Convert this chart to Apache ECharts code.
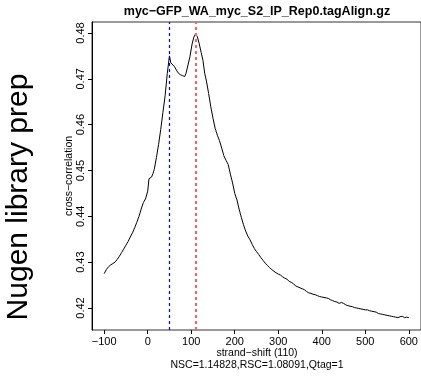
<!DOCTYPE html>
<html><head><meta charset="utf-8">
<script src="https://cdn.jsdelivr.net/npm/echarts@6/dist/echarts.min.js"></script>
<style>html,body{margin:0;padding:0;background:#fff}#c{width:421px;height:378px}</style>
</head><body><div id="c"></div>
<script>
var chartTitle = "myc\u2212GFP_WA_myc_S2_IP_Rep0.tagAlign.gz";
var sideLabel = "Nugen library prep";
var xName = "strand\u2212shift (110)";
var statsLine = "NSC=1.14828,RSC=1.08091,Qtag=1";
var yName = "cross\u2212correlation";
var xTicks = [-100, 0, 100, 200, 300, 400, 500, 600];
var yTicks = [0.42, 0.43, 0.44, 0.45, 0.46, 0.47, 0.48];
var phantomPeak = 50;
var fragmentPeak = 110;
var shifts = [-100,-95,-90,-85,-80,-75,-70,-65,-60,-55,-50,-45,-40,-35,-30,-25,-20,-15,-10,-5,0,3,5,9,12,15,20,25,30,35,40,45,50,53,57,62,66,70,75,80,85,88,92,97,102,106,110,114,118,123,127,131,135,140,145,150,155,160,165,170,175,180,185,190,195,200,205,210,215,220,225,230,235,240,245,250,255,260,265,270,275,280,285,290,295,300,305,310,315,320,325,330,335,340,345,350,355,360,365,370,375,380,385,390,395,400,405,410,415,420,425,430,435,440,445,450,455,460,465,470,475,480,485,490,495,500,505,510,515,520,525,530,535,540,545,550,555,560,565,570,575,580,585,590,595,600];
var corr = [0.4275,0.4284,0.4290,0.4294,0.4297,0.4300,0.4306,0.4313,0.4321,0.4329,0.4337,0.4345,0.4355,0.4364,0.4375,0.4387,0.4400,0.4416,0.4430,0.4438,0.4455,0.4482,0.4484,0.4486,0.4493,0.4502,0.4528,0.4557,0.4590,0.4627,0.4663,0.4712,0.4750,0.4735,0.4731,0.4726,0.4719,0.4713,0.4709,0.4707,0.4705,0.4712,0.4728,0.4748,0.4776,0.4791,0.4798,0.4792,0.4778,0.4757,0.4740,0.4712,0.4695,0.4668,0.4639,0.4614,0.4592,0.4577,0.4565,0.4549,0.4532,0.4522,0.4513,0.4492,0.4473,0.4450,0.4436,0.4416,0.4398,0.4382,0.4368,0.4357,0.4349,0.4339,0.4330,0.4323,0.4317,0.4310,0.4304,0.4298,0.4293,0.4288,0.4284,0.4280,0.4277,0.4274,0.4272,0.4268,0.4265,0.4263,0.4258,0.4256,0.4253,0.4248,0.4246,0.4244,0.4242,0.4240,0.4236,0.4233,0.4232,0.4230,0.4229,0.4227,0.4225,0.4224,0.4223,0.4222,0.4221,0.4218,0.4216,0.4214,0.4213,0.4210,0.4212,0.4210,0.4207,0.4205,0.4204,0.4203,0.4201,0.4200,0.4199,0.4198,0.4197,0.4196,0.4196,0.4194,0.4193,0.4192,0.4191,0.4188,0.4187,0.4186,0.4185,0.4184,0.4183,0.4182,0.4181,0.4180,0.4179,0.4181,0.4182,0.4179,0.4180,0.4179];

var FONT = "'Liberation Sans', Arial, Helvetica, sans-serif";
var data = shifts.map(function(s, i){ return [s, corr[i]]; });
var chart = echarts.init(document.getElementById('c'), null, {renderer: 'canvas'});
var gridL = 92, gridT = 22, gridW = 332, gridH = 308;
chart.setOption({
  animation: false,
  backgroundColor: '#fff',
  grid: {left: gridL, top: gridT, width: gridW, height: gridH, show: true, borderColor: '#333', borderWidth: 1, containLabel: false},
  title: {text: chartTitle, left: gridL + gridW / 2 - 1, textAlign: 'center', top: 5, padding: 0,
    textStyle: {fontFamily: FONT, fontSize: 12.5, fontWeight: 'bold', color: '#000'}},
  xAxis: {type: 'value', min: -128, max: 628,
    axisLine: {show: false, onZero: false},
    axisTick: {show: true, length: 4, customValues: xTicks, lineStyle: {color: '#000'}},
    axisLabel: {customValues: xTicks, fontFamily: FONT, fontSize: 11, color: '#000', margin: 6,
      formatter: function(v){ return v < 0 ? '\u2212' + Math.abs(v) : String(v); }},
    splitLine: {show: false}},
  yAxis: {type: 'value', min: 0.4152, max: 0.4824,
    axisLine: {show: true, onZero: false, lineStyle: {color: '#000'}},
    axisTick: {show: true, length: 4, customValues: yTicks, lineStyle: {color: '#000'}},
    axisLabel: {customValues: yTicks, rotate: 90, fontFamily: FONT, fontSize: 11, color: '#000', margin: 6,
      formatter: function(v){ return v.toFixed(2); }},
    splitLine: {show: false}},
  graphic: [
    {type: 'text', x: 19, y: 197, rotation: Math.PI / 2,
      style: {text: sideLabel, font: '30px ' + FONT, fill: '#000', align: 'center', verticalAlign: 'middle'}},
    {type: 'text', x: 69.5, y: 176, rotation: Math.PI / 2,
      style: {text: yName, font: '10.5px ' + FONT, fill: '#000', align: 'center', verticalAlign: 'middle'}},
    {type: 'text', x: gridL + gridW / 2 - 1, y: 353,
      style: {text: xName, font: '10.5px ' + FONT, fill: '#000', align: 'center', verticalAlign: 'middle'}},
    {type: 'text', x: gridL + gridW / 2 - 1, y: 365,
      style: {text: statsLine, font: '10.5px ' + FONT, fill: '#000', align: 'center', verticalAlign: 'middle'}}
  ],
  series: [{
    type: 'line', data: data, showSymbol: false, symbol: 'none',
    lineStyle: {color: '#000', width: 1},
    markLine: {silent: true, symbol: 'none', label: {show: false},
      lineStyle: {color: '#0000ff', width: 1, type: [3, 3]},
      data: [
        {xAxis: phantomPeak, lineStyle: {color: '#0000ff', width: 1.2, type: [3, 3]}},
        {xAxis: fragmentPeak, lineStyle: {color: '#ff6060', width: 2, type: [3, 3]}}
      ]}
  }]
});
</script></body></html>
